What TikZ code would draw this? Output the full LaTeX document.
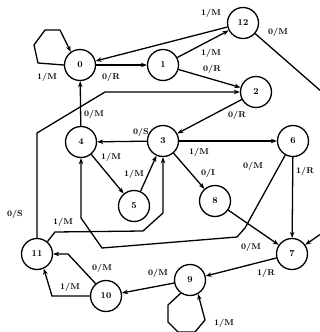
\documentclass[tikz,border=0pt]{standalone}
\usetikzlibrary{arrows.meta}
\begin{document}
\begin{tikzpicture}[x=1pt,y=-1pt,
  st/.style={circle,draw,line width=1.3pt,minimum size=31pt,inner sep=0pt,font=\fontsize{9}{9}\selectfont\bfseries},
  lbl/.style={font=\fontsize{8.5}{8.5}\selectfont\bfseries,inner sep=0pt},
  ed/.style={line width=1.3pt,-{Stealth[length=6pt,width=4.5pt]}}]
\useasboundingbox (0,0) rectangle (320,332);
\node[st] (0) at (80,65) {0};
\node[st] (1) at (163,65) {1};
\node[st] (12) at (243,23) {12};
\node[st] (2) at (256,92) {2};
\node[st] (3) at (163,141) {3};
\node[st] (4) at (81,142) {4};
\node[st] (5) at (134,206) {5};
\node[st] (6) at (293,141) {6};
\node[st] (8) at (215,201) {8};
\node[st] (7) at (292,254) {7};
\node[st] (9) at (190,280) {9};
\node[st] (10) at (106,296) {10};
\node[st] (11) at (37,254) {11};
% helper coordinates
\coordinate (l0a) at (38,63); \coordinate (l0b) at (34,45); \coordinate (l0c) at (45,30); \coordinate (l0d) at (60,30);
\coordinate (r1) at (338,106); \coordinate (r2) at (338,222);
\coordinate (p2a) at (37,133); \coordinate (p2b) at (105,92);
\coordinate (p4a) at (245,228); \coordinate (p4b) at (237,237); \coordinate (p4c) at (102,248); \coordinate (p4d) at (81,218);
\coordinate (p3a) at (55,232); \coordinate (p3b) at (143,231); \coordinate (p3c) at (163,213);
\coordinate (l9a) at (168,305); \coordinate (l9b) at (168,322); \coordinate (l9c) at (178,332); \coordinate (l9d) at (195,332); \coordinate (l9e) at (205,320);
\coordinate (q1) at (52,296);
\coordinate (q2) at (68,254);
% edges
\draw[ed] (0.180) -- (l0a) -- (l0b) -- (l0c) -- (l0d) -- (0.125);
\draw[ed] (0) -- (1);
\draw[ed] (12) -- (0);
\draw[ed] (1) -- (12);
\draw[ed] (1) -- (2);
\draw[ed] (12) -- (r1) -- (r2) -- (7);
\draw[ed] (2) -- (3);
\draw[ed] (11.north) -- (p2a) -- (p2b) -- (2.west);
\draw[ed] (4) -- (0);
\draw[ed] (3) -- (4);
\draw[ed] (4) -- (5);
\draw[ed] (5) -- (3);
\draw[ed] (3) -- (6);
\draw[ed] (3) -- (8);
\draw[ed] (6) -- (7);
\draw[ed] (6) -- (p4a) -- (p4b) -- (p4c) -- (p4d) -- (4.south);
\draw[ed] (8) -- (7);
\draw[ed] (11.50) -- (p3a) -- (p3b) -- (p3c) -- (3.south);
\draw[ed] (7) -- (9);
\draw[ed] (9.235) -- (l9a) -- (l9b) -- (l9c) -- (l9d) -- (l9e) -- (9.300);
\draw[ed] (9) -- (10);
\draw[ed] (10.west) -- (q1) -- (11.-65);
\draw[ed] (10.130) -- (q2) -- (11.east);
% labels
\node[lbl] (t1) at (47,77) {1/M};
\node[lbl] (t2) at (111,77) {0/R};
\node[lbl] (t3) at (211,13) {1/M};
\node[lbl] (t4) at (211,53) {1/M};
\node[lbl] (t5) at (212,69) {0/R};
\node[lbl] (t6) at (278,32) {0/M};
\node[lbl] (t7) at (237,115) {0/R};
\node[lbl] (t8) at (15,214) {0/S};
\node[lbl] (t9) at (94,114) {0/M};
\node[lbl] (t10) at (141,132) {0/S};
\node[lbl] (t11) at (111,157) {1/M};
\node[lbl] (t12) at (134,174) {1/M};
\node[lbl] (t13) at (199,152) {1/M};
\node[lbl] (t14) at (208,173) {0/I};
\node[lbl] (t15) at (305,171) {1/R};
\node[lbl] (t16) at (253,166) {0/M};
\node[lbl] (t17) at (251,247) {0/M};
\node[lbl] (t18) at (63,222) {1/M};
\node[lbl] (t19) at (266,273) {1/R};
\node[lbl] (t20) at (224,323) {1/M};
\node[lbl] (t21) at (158,273) {0/M};
\node[lbl] (t22) at (70,287) {1/M};
\node[lbl] (t23) at (102,268) {0/M};
\end{tikzpicture}
\end{document}
